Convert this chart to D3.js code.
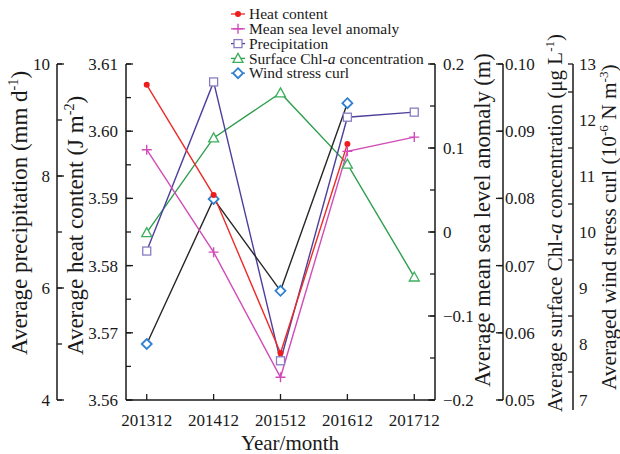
<!DOCTYPE html>
<html>
<head>
<meta charset="utf-8">
<script src="https://cdn.jsdelivr.net/npm/d3@7/dist/d3.min.js"></script>
<style>
  html, body { margin: 0; padding: 0; background: #fff; }
  svg { display: block; }
  text { font-family: "Liberation Serif", "DejaVu Serif", serif; fill: #1a1a1a; }
</style>
</head>
<body>
<svg id="chart" width="620" height="454"></svg>
<script>
// Annual (December) averages of five ocean/atmosphere variables
const categories = ["201312", "201412", "201512", "201612", "201712"];
const heatContent = [3.6069, 3.5905, 3.5670, 3.5981, null];
const seaLevel = [0.098, -0.024, -0.173, 0.096, 0.113];
const precipitation = [6.66, 9.68, 4.70, 9.05, 9.14];
const chlorophyll = [0.0749, 0.0890, 0.0957, 0.0851, 0.0683];
const windCurl = [8.00, 10.59, 8.95, 12.30, null];

const heatTicks = [3.56, 3.57, 3.58, 3.59, 3.60, 3.61];
const precipTicks = [4, 6, 8, 10];
const seaTicks = [-0.2, -0.1, 0, 0.1, 0.2];
const chlTicks = [0.05, 0.06, 0.07, 0.08, 0.09, 0.10];
const windTicks = [7, 8, 9, 10, 11, 12, 13];

const svg = d3.select("#chart");
const plotTop = 64, plotBottom = 400, plotLeft = 126, plotRight = 435;

const x = d3.scalePoint().domain(categories).range([plotLeft, plotRight]).padding(0.31);
const yHeat = d3.scaleLinear().domain([3.56, 3.61]).range([plotBottom, plotTop]);
const yPrecip = d3.scaleLinear().domain([4, 10]).range([plotBottom, plotTop]);
const ySea = d3.scaleLinear().domain([-0.2, 0.2]).range([plotBottom, plotTop]);
const yChl = d3.scaleLinear().domain([0.05, 0.10]).range([plotBottom, plotTop]);
const yWind = d3.scaleLinear().domain([7, 13]).range([plotBottom, plotTop]);

const axisColor = "#1a1a1a";
const tickFont = 17;

// draws a vertical axis: line + minor ticks + labelled major ticks
function vAxis(xPos, scale, majors, minorStep, side, labelFmt, dir, opts = {}) {
  const g = svg.append("g").attr("transform", `translate(${xPos},0)`);
  const [d0, d1] = scale.domain();
  const minors = opts.minorsOnly || d3.range(d0, d1 + minorStep / 2, minorStep);
  const lineEnd = opts.lineEnd || plotBottom;
  g.append("line").attr("x1", 0).attr("x2", 0).attr("y1", plotTop).attr("y2", lineEnd)
    .attr("stroke", axisColor).attr("stroke-width", 1.5);
  g.selectAll("line.minor").data(minors).join("line").attr("class", "minor")
    .attr("x1", 0).attr("x2", dir * 5)
    .attr("y1", d => scale(d)).attr("y2", d => scale(d))
    .attr("stroke", axisColor).attr("stroke-width", 1.3);
  if (!opts.noMajorTicks) {
    g.selectAll("line.major").data(majors).join("line").attr("class", "major")
      .attr("x1", 0).attr("x2", dir * 7)
      .attr("y1", d => scale(d)).attr("y2", d => scale(d))
      .attr("stroke", axisColor).attr("stroke-width", 1.3);
  }
  g.selectAll("text").data(majors).join("text")
    .attr("x", side === "left" ? -(opts.labelGap || 8) : (opts.labelGap || 8))
    .attr("y", d => scale(d))
    .attr("dy", "0.35em")
    .attr("text-anchor", side === "left" ? "end" : "start")
    .attr("font-size", tickFont)
    .text(labelFmt);
  return g;
}

vAxis(57, yPrecip, precipTicks, 1, "left", d => d, 1, { labelGap: 7 });
vAxis(plotLeft, yHeat, heatTicks, 0.005, "left", d => d.toFixed(2), 1, { labelGap: 8 });
vAxis(plotRight, ySea, seaTicks, 0.05, "right", d => d === 0 ? "0" : d3.format(".1f")(d), -1, { labelGap: 8 });
vAxis(503, yChl, chlTicks, 0.01, "right", d => d.toFixed(2), -1, { labelGap: 2 });
vAxis(573, yWind, windTicks, 0.5, "right", d => d, -1,
  { labelGap: 6, lineEnd: 410, noMajorTicks: true,
    minorsOnly: [13, 12.5, 11.5, 10.5, 9.5, 8.5, 7.5] });

// x axis
const gx = svg.append("g").attr("transform", `translate(0,${plotBottom})`);
gx.append("line").attr("x1", plotLeft).attr("x2", plotRight).attr("y1", 0).attr("y2", 0)
  .attr("stroke", axisColor).attr("stroke-width", 1.5);
gx.selectAll("line.t").data(categories).join("line").attr("class", "t")
  .attr("x1", d => x(d)).attr("x2", d => x(d)).attr("y1", 0).attr("y2", -6)
  .attr("stroke", axisColor).attr("stroke-width", 1.3);
gx.selectAll("text").data(categories).join("text")
  .attr("x", d => x(d)).attr("y", 26).attr("text-anchor", "middle")
  .attr("font-size", tickFont).text(d => d);

svg.append("text").attr("x", 290).attr("y", 450).attr("text-anchor", "middle")
  .attr("font-size", 21).text("Year/month");

// rotated axis titles with superscripts
function vTitle(xb, yb, parts, size) {
  const t = svg.append("text")
    .attr("transform", `translate(${xb},${yb}) rotate(-90)`)
    .attr("font-size", size).attr("text-anchor", "start");
  parts.forEach(p => {
    const s = t.append("tspan").text(p.t);
    if (p.sup) s.attr("font-size", size * 0.62).attr("dy", -size * 0.38);
    if (p.after) s.attr("dy", size * 0.38);
    if (p.it) s.attr("font-style", "italic");
  });
}
vTitle(27, 355, [{ t: "Average precipitation (mm d" }, { t: "-1", sup: true }, { t: ")", after: true }], 23);
vTitle(83, 355, [{ t: "Average heat content (J m" }, { t: "-2", sup: true }, { t: ")", after: true }], 23);
vTitle(490, 387, [{ t: "Average mean sea level anomaly (m)" }], 22.5);
vTitle(562, 412, [{ t: "Average surface Chl-" }, { t: "a", it: true }, { t: " concentration (μg L" }, { t: "-1", sup: true }, { t: ")", after: true }], 21);
vTitle(616, 390, [{ t: "Averaged wind stress curl (10" }, { t: "-6", sup: true }, { t: " N m", after: true }, { t: "-3", sup: true }, { t: ")", after: true }], 21.3);

// series
const series = [
  { name: "Heat content", values: heatContent, y: yHeat, line: "#ee2b2b", marker: "dot", mc: "#ee1c1c" },
  { name: "Mean sea level anomaly", values: seaLevel, y: ySea, line: "#d24cb8", marker: "plus", mc: "#d24cb8" },
  { name: "Precipitation", values: precipitation, y: yPrecip, line: "#4d3f9c", marker: "square", mc: "#8a7cc2" },
  { name: "Surface Chl-a concentration", values: chlorophyll, y: yChl, line: "#2e9e4e", marker: "triangle", mc: "#3cae5c" },
  { name: "Wind stress curl", values: windCurl, y: yWind, line: "#262626", marker: "diamond", mc: "#2f80d0" }
];

function drawMarker(g, type, cx, cy, color) {
  if (type === "dot") {
    g.append("circle").attr("cx", cx).attr("cy", cy).attr("r", 3).attr("fill", color);
  } else if (type === "plus") {
    g.append("path").attr("d", `M${cx - 5},${cy}H${cx + 5}M${cx},${cy - 5}V${cy + 5}`)
      .attr("stroke", color).attr("stroke-width", 1.4);
  } else if (type === "square") {
    g.append("rect").attr("x", cx - 4).attr("y", cy - 4).attr("width", 8).attr("height", 8)
      .attr("fill", "#fff").attr("stroke", color).attr("stroke-width", 1.3);
  } else if (type === "triangle") {
    g.append("path").attr("d", `M${cx},${cy - 5}L${cx + 5},${cy + 4}L${cx - 5},${cy + 4}Z`)
      .attr("fill", "#fff").attr("stroke", color).attr("stroke-width", 1.3);
  } else if (type === "diamond") {
    g.append("path").attr("d", `M${cx},${cy - 5}L${cx + 5},${cy}L${cx},${cy + 5}L${cx - 5},${cy}Z`)
      .attr("fill", "#fff").attr("stroke", color).attr("stroke-width", 1.8);
  }
}

const plotG = svg.append("g");
const order = [3, 2, 4, 0, 1];
order.forEach(i => {
  const s = series[i];
  const pts = categories.map((c, k) => ({ c, v: s.values[k] })).filter(p => p.v != null);
  const line = d3.line().x(p => x(p.c)).y(p => s.y(p.v));
  plotG.append("path").datum(pts).attr("d", line).attr("fill", "none")
    .attr("stroke", s.line).attr("stroke-width", 1.4);
});
order.forEach(i => {
  const s = series[i];
  categories.forEach((c, k) => {
    if (s.values[k] != null) drawMarker(plotG, s.marker, x(c), s.y(s.values[k]), s.mc);
  });
});

// legend
const lg = svg.append("g");
const legendY = [14, 28.8, 43.6, 58.4, 73.2];
series.forEach((s, i) => {
  const yy = legendY[i];
  lg.append("line").attr("x1", 231).attr("x2", 245).attr("y1", yy).attr("y2", yy)
    .attr("stroke", s.line === "#262626" ? s.mc : s.line).attr("stroke-width", 1.3);
  drawMarker(lg, s.marker, 238, yy, s.mc);
  const t = lg.append("text").attr("x", 249).attr("y", yy).attr("dy", "0.33em").attr("font-size", 15.5);
  if (s.name.includes("Chl-a")) {
    t.append("tspan").text("Surface Chl-");
    t.append("tspan").attr("font-style", "italic").text("a");
    t.append("tspan").text(" concentration");
  } else {
    t.text(s.name);
  }
});
</script>
</body>
</html>
